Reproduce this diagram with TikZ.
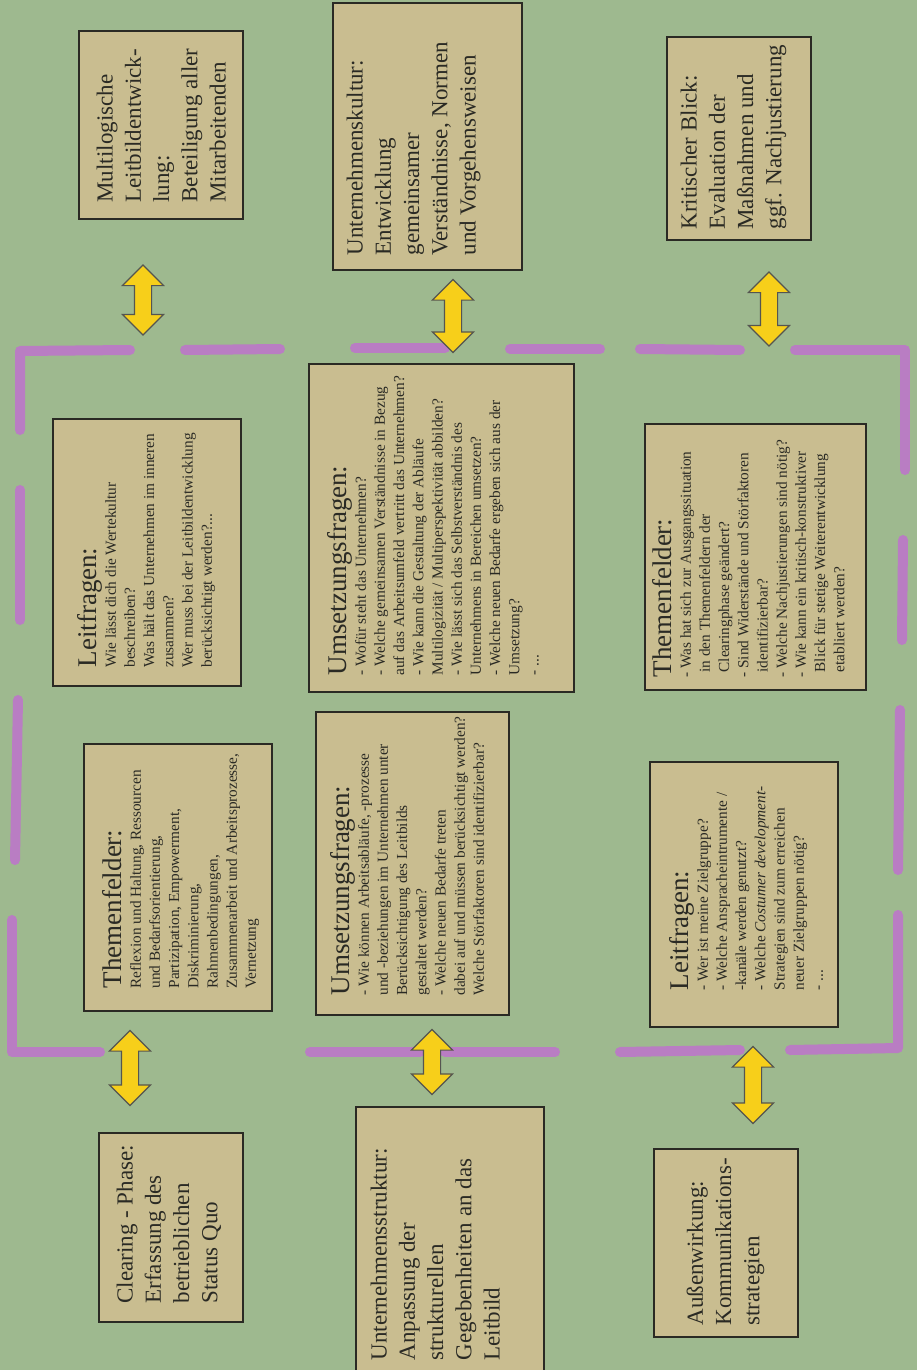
\documentclass[tikz,border=0pt]{standalone}
\usepackage{fontspec}
\setmainfont{Liberation Serif}
\usetikzlibrary{shapes.arrows}
\definecolor{bg}{HTML}{9EB98F}
\definecolor{boxfill}{HTML}{C9BD90}
\definecolor{dashcol}{HTML}{B97DC3}
\definecolor{arrowfill}{HTML}{F7CF1A}
\definecolor{ink}{HTML}{2A2A24}
\begin{document}
\begin{tikzpicture}[x=1pt,y=-1pt,
  card/.style={draw=ink, line width=1.3pt, fill=boxfill, inner sep=0pt},
  bigtxt/.style={rotate=90, anchor=north west, inner sep=0pt, align=left, text=ink, font=\fontsize{23}{28.3}\selectfont},
  smalltxt/.style={rotate=90, anchor=north west, inner sep=0pt, align=left, text=ink, font=\fontsize{15.3}{19.2}\selectfont},
  dblarrow/.style={double arrow, draw=ink!80, line width=1.1pt, fill=arrowfill, rotate=90, minimum width=40pt, double arrow head extend=12pt, inner xsep=0pt, inner ysep=8pt},
  rim/.style={draw=dashcol, line width=10pt, line cap=round, line join=round}]
\newcommand{\ttlsize}{\fontsize{27}{27}\selectfont}
\fill[bg] (0,0) rectangle (917,1370);
\useasboundingbox (0,0) rectangle (917,1370);

% magenta dashed frame
\draw[rim] (20,430) -- (20,351) -- (130,350);
\draw[rim] (185,350) -- (280,349);
\draw[rim] (355,348) -- (445,348);
\draw[rim] (510,349) -- (600,349);
\draw[rim] (640,349) -- (740,350);
\draw[rim] (795,350) -- (905,350) -- (905,470);
\draw[rim] (903,540) -- (902,640);
\draw[rim] (900,710) -- (898,870);
\draw[rim] (898,915) -- (898,1048) -- (790,1050);
\draw[rim] (740,1050) -- (620,1052);
\draw[rim] (555,1052) -- (445,1052);
\draw[rim] (420,1052) -- (310,1052);
\draw[rim] (100,1052) -- (12,1052) -- (12,920);
\draw[rim] (15,860) -- (18,700);
\draw[rim] (20,620) -- (20,490);

% boxes
\node[card, minimum width=164pt, minimum height=188pt] (b1) at (161,125) {};
\node[card, minimum width=189pt, minimum height=267pt] (b2) at (427.5,136.5) {};
\node[card, minimum width=144pt, minimum height=203pt] (b3) at (739,138.5) {};
\node[card, minimum width=188pt, minimum height=267pt] (b4) at (147,552.5) {};
\node[card, minimum width=265pt, minimum height=328pt] (b5) at (441.5,528) {};
\node[card, minimum width=221pt, minimum height=266pt] (b6) at (755.5,557) {};
\node[card, minimum width=188pt, minimum height=267pt] (b7) at (178,877.5) {};
\node[card, minimum width=193pt, minimum height=303pt] (b8) at (412.5,863.5) {};
\node[card, minimum width=188pt, minimum height=265pt] (b9) at (744,894.5) {};
\node[card, minimum width=144pt, minimum height=189pt] (b10) at (171,1227.5) {};
\node[card, minimum width=188pt, minimum height=266pt] (b11) at (450,1240) {};
\node[card, minimum width=144pt, minimum height=188pt] (b12) at (726,1243) {};

% texts of outer boxes
\node[bigtxt] (t1) at ([xshift=18pt,yshift=17pt]b1.south west)
  {Multilogische\\Leitbildentwick-\\lung:\\Beteiligung aller\\Mitarbeitenden};
\node[bigtxt] (t2) at ([xshift=14pt,yshift=15pt]b2.south west)
  {Unternehmenskultur:\\Entwicklung\\gemeinsamer\\Verständnisse, Normen\\und Vorgehensweisen};
\node[bigtxt] (t3) at ([xshift=14pt,yshift=11pt]b3.south west)
  {Kritischer Blick:\\Evaluation der\\Maßnahmen und\\ggf. Nachjustierung};
\node[bigtxt] (t10) at ([xshift=18pt,yshift=19pt]b10.south west)
  {Clearing - Phase:\\Erfassung des\\betrieblichen\\Status Quo};
\node[bigtxt] (t11) at ([xshift=15pt,yshift=13pt]b11.south west)
  {Unternehmensstruktur:\\Anpassung der\\strukturellen\\Gegebenheiten an das\\Leitbild};
\node[bigtxt] (t12) at ([xshift=33pt,yshift=12pt]b12.south west)
  {Außenwirkung:\\Kommunikations-\\strategien};

% texts of inner boxes
\node[smalltxt] (t4) at ([xshift=25pt,yshift=19pt]b4.south west)
  {{\ttlsize Leitfragen:}\\Wie lässt dich die Wertekultur\\beschreiben?\\Was hält das Unternehmen im inneren\\zusammen?\\Wer muss bei der Leitbildentwicklung\\berücksichtigt werden?...};
\node[smalltxt] (t5) at ([xshift=19pt,yshift=17pt]b5.south west)
  {{\ttlsize Umsetzungsfragen:}\\- Wofür steht das Unternehmen?\\- Welche gemeinsamen Verständnisse in Bezug\\auf das Arbeitsumfeld vertritt das Unternehmen?\\- Wie kann die Gestaltung der Abläufe\\Multilogizität / Multiperspektivität abbilden?\\- Wie lässt sich das Selbstverständnis des\\Unternehmens in Bereichen umsetzen?\\- Welche neuen Bedarfe ergeben sich aus der\\Umsetzung?\\- ...};
\node[smalltxt] (t6) at ([xshift=8pt,yshift=13pt]b6.south west)
  {{\ttlsize Themenfelder:}\\- Was hat sich zur Ausgangssituation\\\hspace*{5pt}in den Themenfeldern der\\\hspace*{5pt}Clearingphase geändert?\\- Sind Widerstände und Störfaktoren\\\hspace*{5pt}identifizierbar?\\- Welche Nachjustierungen sind nötig?\\- Wie kann ein kritisch-konstruktiver\\\hspace*{5pt}Blick für stetige Weiterentwicklung\\\hspace*{5pt}etabliert werden?};
\node[smalltxt] (t7) at ([xshift=19pt,yshift=23pt]b7.south west)
  {{\ttlsize Themenfelder:}\\Reflexion und Haltung, Ressourcen\\und Bedarfsorientierung,\\Partizipation, Empowerment,\\Diskriminierung,\\Rahmenbedingungen,\\Zusammenarbeit und Arbeitsprozesse,\\Vernetzung};
\node[smalltxt] (t8) at ([xshift=15pt,yshift=20pt]b8.south west)
  {{\ttlsize Umsetzungsfragen:}\\- Wie können Arbeitsabläufe, -prozesse\\und -beziehungen im Unternehmen unter\\Berücksichtigung des Leitbilds\\gestaltet werden?\\- Welche neuen Bedarfe treten\\dabei auf und müssen berücksichtigt werden?\\Welche Störfaktoren sind identifizierbar?};
\node[smalltxt] (t9) at ([xshift=20pt,yshift=37pt]b9.south west)
  {{\ttlsize Leitfragen:}\\- Wer ist meine Zielgruppe?\\- Welche Anspracheintrumente /\\-kanäle werden genutzt?\\- Welche \textit{Costumer development}-\\Strategien sind zum erreichen\\neuer Zielgruppen nötig?\\- ...};

% double arrows
\node[dblarrow, minimum height=70pt] (a1) at (143,300) {};
\node[dblarrow, minimum height=73pt] (a2) at (453,316) {};
\node[dblarrow, minimum height=74pt] (a3) at (769,309) {};
\node[dblarrow, minimum height=75pt] (a4) at (130,1068) {};
\node[dblarrow, minimum height=65pt] (a5) at (432,1062) {};
\node[dblarrow, minimum height=77pt] (a6) at (753,1085) {};
\end{tikzpicture}
\end{document}
